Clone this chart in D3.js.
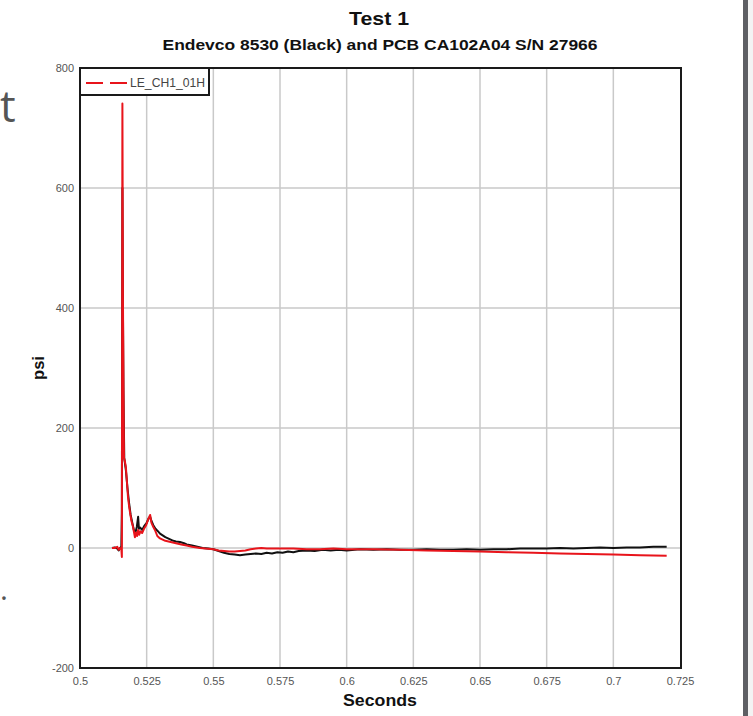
<!DOCTYPE html>
<html>
<head>
<meta charset="utf-8">
<script src="https://cdn.jsdelivr.net/npm/d3@7"></script>
<style>
  html, body { margin: 0; padding: 0; background: #ffffff; }
  svg { display: block; }
</style>
</head>
<body>
<script>
// ---- Data ----
const xTicks = [0.5, 0.525, 0.55, 0.575, 0.6, 0.625, 0.65, 0.675, 0.7, 0.725];
const xTickLabels = ["0.5", "0.525", "0.55", "0.575", "0.6", "0.625", "0.65", "0.675", "0.7", "0.725"];
const yTicks = [-200, 0, 200, 400, 600, 800];
const yTickLabels = ["-200", "0", "200", "400", "600", "800"];

const blackTime = [0.5120,0.5130,0.5140,0.5145,0.5150,0.5155,0.5157,0.5159,0.5161,0.5163,0.5166,0.5172,0.5178,0.5184,0.5190,0.5196,0.5202,0.5208,0.5213,0.5218,0.5221,0.5226,0.5233,0.5240,0.5250,0.5258,0.5263,0.5268,0.5275,0.5283,0.5292,0.5300,0.5310,0.5320,0.5330,0.5340,0.5350,0.5360,0.5375,0.5390,0.5400,0.5420,0.5440,0.5460,0.5480,0.5500,0.5520,0.5540,0.5560,0.5580,0.5600,0.5620,0.5640,0.5660,0.5680,0.5700,0.5720,0.5740,0.5760,0.5780,0.5800,0.5820,0.5850,0.5880,0.5910,0.5940,0.5970,0.6000,0.6050,0.6100,0.6150,0.6200,0.6250,0.6300,0.6350,0.6400,0.6450,0.6500,0.6550,0.6600,0.6650,0.6700,0.6750,0.6800,0.6850,0.6900,0.6950,0.7000,0.7050,0.7100,0.7150,0.7200];
const blackPsi  = [0,1,-1,-4,0,2,60,600,400,260,150,130,100,75,55,42,30,26,35,52,32,34,30,36,42,50,52,45,38,32,28,24,21,18,16,14,12,11,10,8,6,4,2,0,-1,-2,-5,-8,-10,-11,-12,-11,-10,-9,-10,-8,-9,-7,-8,-6,-7,-5,-4,-5,-3,-4,-3,-4,-2,-3,-2,-3,-3,-2,-3,-3,-2,-3,-2,-2,-1,-1,-1,0,-1,0,1,0,1,1,2,2];

const redTime = [0.5120,0.5130,0.5140,0.5145,0.5150,0.5155,0.5157,0.5159,0.5161,0.5163,0.5165,0.5168,0.5172,0.5176,0.5180,0.5184,0.5188,0.5193,0.5199,0.5206,0.5210,0.5214,0.5218,0.5222,0.5226,0.5233,0.5240,0.5248,0.5256,0.5263,0.5268,0.5275,0.5281,0.5290,0.5300,0.5320,0.5340,0.5360,0.5380,0.5400,0.5420,0.5450,0.5470,0.5500,0.5520,0.5540,0.5560,0.5580,0.5600,0.5620,0.5640,0.5660,0.5680,0.5700,0.5750,0.5800,0.5850,0.5900,0.5950,0.6000,0.6100,0.6200,0.6300,0.6400,0.6500,0.6600,0.6700,0.6800,0.6900,0.7000,0.7100,0.7200];
const redPsi  = [0,0,2,-3,0,-2,-15,741,420,270,150,145,135,110,85,70,58,45,35,18,26,20,30,22,28,25,32,38,48,55,42,35,30,20,16,12,10,8,6,4,2,0,-1,-2,-4,-5,-6,-6,-5,-4,-2,-1,0,-1,-1,-1,-2,-2,-1,-2,-2,-3,-4,-5,-6,-7,-8,-9,-10,-11,-12,-13];

const legendLabel = "LE_CH1_01H";
const titleText = "Test 1";
const subtitleText = "Endevco 8530 (Black) and PCB CA102A04 S/N 27966";
const xLabel = "Seconds";
const yLabel = "psi";

// ---- Layout ----
const W = 753, H = 716;
const m = { left: 80, top: 68, right: 680, bottom: 668 };

const svg = d3.select("body").append("svg").attr("width", W).attr("height", H);

const x = d3.scaleLinear().domain([0.5, 0.725]).range([m.left, m.right]);
const y = d3.scaleLinear().domain([-200, 800]).range([m.bottom, m.top]);

const narrow = "'Liberation Sans Narrow', 'Liberation Sans', Arial, sans-serif";
const bold = "'Liberation Sans', Arial, sans-serif";

// grid
const grid = svg.append("g");
grid.selectAll("line.vx").data(xTicks.slice(1, -1)).enter().append("line")
  .attr("x1", d => x(d)).attr("x2", d => x(d)).attr("y1", m.top).attr("y2", m.bottom)
  .attr("stroke", "#c9c9c9").attr("stroke-width", 1.5);
grid.selectAll("line.hy").data(yTicks.slice(1, -1)).enter().append("line")
  .attr("x1", m.left).attr("x2", m.right).attr("y1", d => y(d)).attr("y2", d => y(d))
  .attr("stroke", "#c9c9c9").attr("stroke-width", 1.5);

// axes (labels only)
const xAxis = d3.axisBottom(x).tickValues(xTicks).tickFormat((d, i) => xTickLabels[i]).tickSize(0).tickPadding(9);
const gx = svg.append("g").attr("transform", `translate(0,${m.bottom})`).call(xAxis);
gx.select(".domain").remove();
gx.selectAll("text").attr("font-family", narrow).attr("font-size", 11).attr("fill", "#555");

const yAxis = d3.axisLeft(y).tickValues(yTicks).tickFormat((d, i) => yTickLabels[i]).tickSize(0).tickPadding(6);
const gy = svg.append("g").attr("transform", `translate(${m.left},0)`).call(yAxis);
gy.select(".domain").remove();
gy.selectAll("text").attr("font-family", narrow).attr("font-size", 11).attr("fill", "#555");

// lines
svg.append("clipPath").attr("id", "clip").append("rect")
  .attr("x", m.left).attr("y", m.top).attr("width", m.right - m.left).attr("height", m.bottom - m.top);
const line = d3.line().x(d => x(d[0])).y(d => y(d[1]));
const blackData = blackTime.map((t, i) => [t, blackPsi[i]]);
const redData = redTime.map((t, i) => [t, redPsi[i]]);
const lg = svg.append("g").attr("clip-path", "url(#clip)");
lg.append("path").datum(blackData).attr("d", line).attr("fill", "none")
  .attr("stroke", "#111").attr("stroke-width", 2).attr("stroke-linejoin", "round");
lg.append("path").datum(redData).attr("d", line).attr("fill", "none")
  .attr("stroke", "#e8141b").attr("stroke-width", 2).attr("stroke-linejoin", "round");

// frame
svg.append("rect").attr("x", m.left).attr("y", m.top).attr("width", m.right - m.left + 1).attr("height", m.bottom - m.top)
  .attr("fill", "none").attr("stroke", "#1a1a1a").attr("stroke-width", 2);

// legend
const leg = svg.append("g");
leg.append("rect").attr("x", m.left).attr("y", m.top).attr("width", 129).attr("height", 27)
  .attr("fill", "#fff").attr("stroke", "#1a1a1a").attr("stroke-width", 2);
leg.append("line").attr("x1", 86).attr("x2", 127).attr("y1", 83).attr("y2", 83)
  .attr("stroke", "#e8141b").attr("stroke-width", 2).attr("stroke-dasharray", "17,7");
leg.append("text").attr("x", 130).attr("y", 87).text(legendLabel)
  .attr("font-family", narrow).attr("font-size", 12).attr("fill", "#444")
  .attr("textLength", 75).attr("lengthAdjust", "spacingAndGlyphs");

// titles
svg.append("text").attr("x", 379).attr("y", 25).attr("text-anchor", "middle").text(titleText)
  .attr("font-family", bold).attr("font-weight", "bold").attr("font-size", 19).attr("fill", "#111")
  .attr("textLength", 60).attr("lengthAdjust", "spacingAndGlyphs");
svg.append("text").attr("x", 380).attr("y", 50).attr("text-anchor", "middle").text(subtitleText)
  .attr("font-family", bold).attr("font-weight", "bold").attr("font-size", 14.5).attr("fill", "#111")
  .attr("textLength", 435).attr("lengthAdjust", "spacingAndGlyphs");
svg.append("text").attr("x", 380).attr("y", 706).attr("text-anchor", "middle").text(xLabel)
  .attr("font-family", bold).attr("font-weight", "bold").attr("font-size", 16.5).attr("fill", "#111")
  .attr("textLength", 74).attr("lengthAdjust", "spacingAndGlyphs");
svg.append("text").attr("transform", "translate(44,368) rotate(-90)").attr("text-anchor", "middle").text(yLabel)
  .attr("font-family", bold).attr("font-weight", "bold").attr("font-size", 16.5).attr("fill", "#111");

// page artefacts at the edges
svg.append("text").attr("x", 0).attr("y", 122).text("t")
  .attr("font-family", "'Open Sans', sans-serif").attr("font-size", 44).attr("fill", "#555");
svg.append("text").attr("x", 0).attr("y", 600).text(".")
  .attr("font-family", "'Open Sans', sans-serif").attr("font-size", 30).attr("fill", "#555");
svg.append("rect").attr("x", 743).attr("y", 0).attr("width", 5).attr("height", H).attr("fill", "#5e5f64");
svg.append("rect").attr("x", 748).attr("y", 0).attr("width", 5).attr("height", H).attr("fill", "#f3f3f3");
</script>
</body>
</html>
